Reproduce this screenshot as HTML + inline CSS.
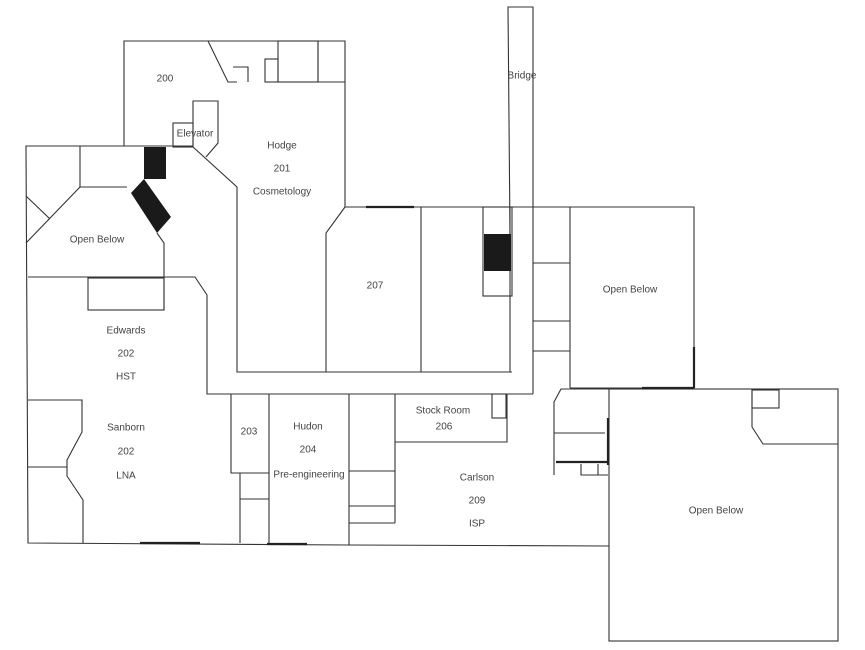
<!DOCTYPE html>
<html><head><meta charset="utf-8"><style>
html,body{margin:0;padding:0;background:#fff;width:865px;height:650px;overflow:hidden}
svg{display:block}
text{font-family:"Liberation Sans",sans-serif;font-size:10px;fill:#444;text-anchor:middle;dominant-baseline:middle}
</style></head><body>
<svg width="865" height="650" viewBox="0 0 865 650" xmlns="http://www.w3.org/2000/svg">
<g fill="none" stroke="#333" stroke-width="1.1">
<polyline points="124,146 124,41 345,41 345,207"/>
<polyline points="208,41 228,82 237,82"/>
<polyline points="233,67 248,67 248,82"/>
<rect x="265" y="59" width="13" height="23"/>
<rect x="278" y="41" width="40" height="41"/>
<line x1="318" y1="41" x2="318" y2="82"/>
<line x1="318" y1="82" x2="345" y2="82"/>
<rect x="173" y="123" width="20" height="24"/>
<polyline points="193,147 193,101 218,101 218,143 206,157"/>
<polyline points="193,147 237,187 237,372 512,372"/>
<polyline points="193,146 26,146 28,543 349,545 609,546"/>
<polyline points="80,146 80,187 127,187"/>
<polyline points="80,187 26,243"/>
<line x1="26" y1="196" x2="50" y2="219"/>
<polyline points="157,233 164,243 164,310"/>
<polyline points="28,277 195,277 207,295 207,394 533,394"/>
<rect x="88" y="278" width="76" height="32"/>
<polyline points="345,207 694,207 694,388 570,388"/>
<polyline points="345,207 326,233 326,372"/>
<line x1="421" y1="207" x2="421" y2="372"/>
<rect x="483" y="207" width="29" height="89"/>
<line x1="510" y1="207" x2="510" y2="372"/>
<polyline points="510,234 508,7 533,7 533,394"/>
<line x1="570" y1="207" x2="570" y2="388"/>
<line x1="533" y1="263" x2="570" y2="263"/>
<line x1="533" y1="321" x2="570" y2="321"/>
<line x1="533" y1="351" x2="570" y2="351"/>
<polyline points="28,400 82,400 82,432 67,460 67,476 83,500 83,543"/>
<line x1="28" y1="467" x2="67" y2="467"/>
<polyline points="231,394 231,473 269,473"/>
<line x1="240" y1="473" x2="240" y2="543"/>
<line x1="240" y1="499" x2="269" y2="499"/>
<line x1="269" y1="394" x2="269" y2="545"/>
<line x1="349" y1="394" x2="349" y2="545"/>
<line x1="395" y1="394" x2="395" y2="523"/>
<line x1="349" y1="471" x2="395" y2="471"/>
<line x1="349" y1="506" x2="395" y2="506"/>
<line x1="349" y1="523" x2="395" y2="523"/>
<polyline points="395,442 507,442 507,394"/>
<rect x="492" y="394" width="14" height="24"/>
<polyline points="609,389 561,389 554,402 554,475"/>
<line x1="554" y1="433" x2="605" y2="433"/>
<polyline points="581,464 581,475 608,475"/>
<line x1="598" y1="464" x2="598" y2="475"/>
<rect x="609" y="389" width="229" height="252"/>
<polyline points="752,390 752,427 763,444 838,444"/>
<rect x="752" y="390" width="27" height="18"/>
</g>
<g stroke="#222" stroke-width="2.2" fill="none">
<line x1="366" y1="207" x2="414" y2="207"/>
<line x1="694" y1="347" x2="694" y2="388"/>
<line x1="642" y1="388" x2="694" y2="388"/>
<line x1="608" y1="418" x2="608" y2="465"/>
<line x1="556" y1="462" x2="608" y2="462"/>
<line x1="140" y1="543" x2="200" y2="543"/>
<line x1="267" y1="544" x2="307" y2="544"/>
</g>
<g fill="#1a1a1a" stroke="none">
<rect x="144" y="147" width="22" height="32"/>
<polygon points="144,179 131,193 157,233 171,217"/>
<rect x="484" y="234" width="27" height="37"/>
</g>
<text x="165" y="79">200</text>
<text x="195" y="134">Elevator</text>
<text x="282" y="146">Hodge</text>
<text x="282" y="169">201</text>
<text x="282" y="192">Cosmetology</text>
<text x="97" y="240">Open Below</text>
<text x="375" y="286">207</text>
<text x="522" y="76">Bridge</text>
<text x="630" y="290">Open Below</text>
<text x="126" y="331">Edwards</text>
<text x="126" y="354">202</text>
<text x="126" y="377">HST</text>
<text x="126" y="428">Sanborn</text>
<text x="126" y="452">202</text>
<text x="126" y="476">LNA</text>
<text x="249" y="432">203</text>
<text x="308" y="427">Hudon</text>
<text x="308" y="450">204</text>
<text x="309" y="475">Pre-engineering</text>
<text x="443" y="411">Stock Room</text>
<text x="444" y="427">206</text>
<text x="477" y="478">Carlson</text>
<text x="477" y="501">209</text>
<text x="477" y="524">ISP</text>
<text x="716" y="511">Open Below</text>
</svg>
</body></html>
